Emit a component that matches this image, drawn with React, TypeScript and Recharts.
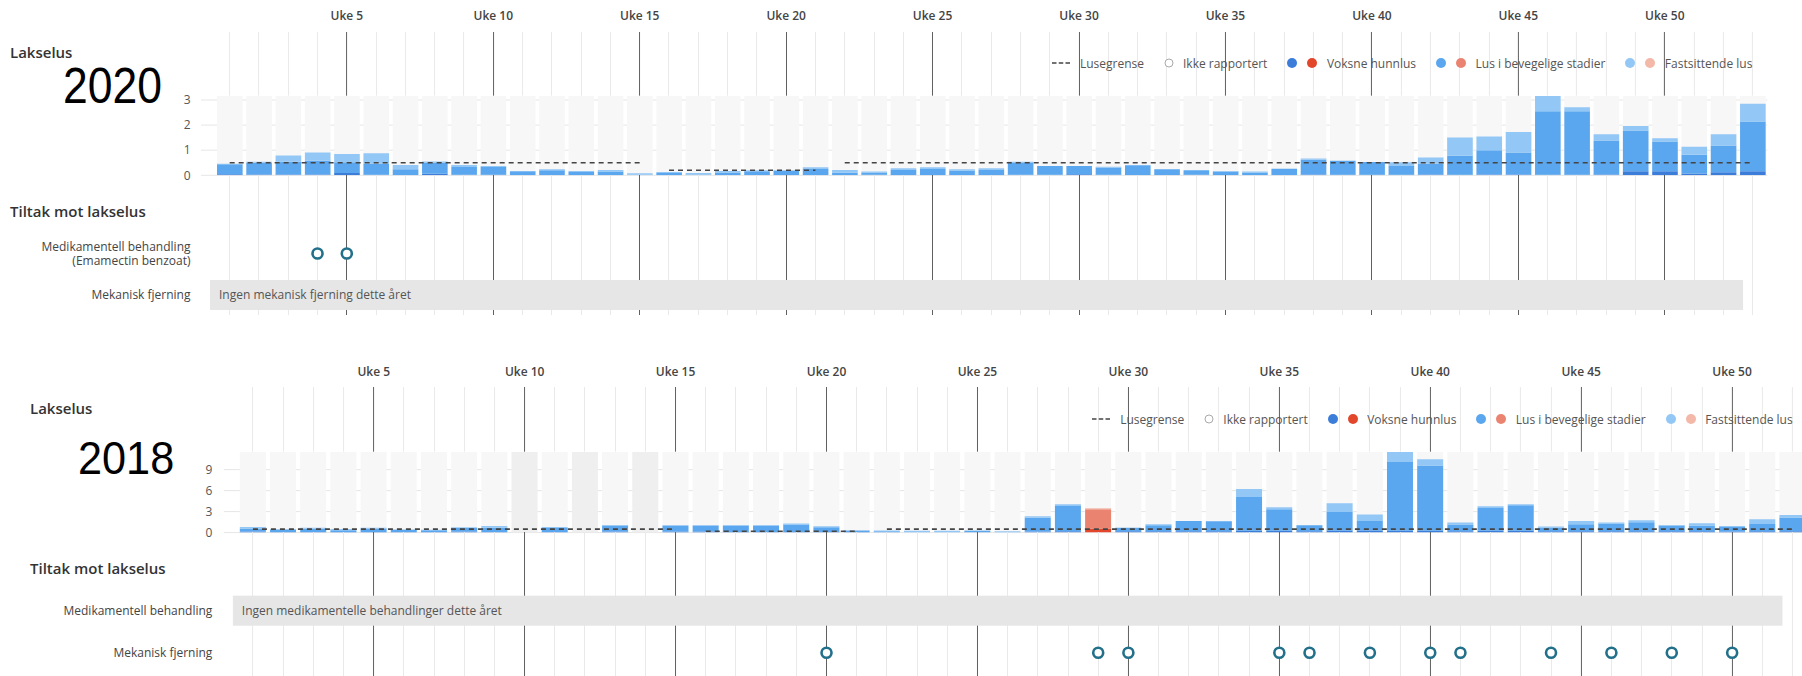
import React from "react";
import {
  ComposedChart,
  Bar,
  Line,
  XAxis,
  YAxis,
  CartesianGrid,
  Cell,
  ReferenceArea,
} from "recharts";

const FONT = "'Open Sans', 'DejaVu Sans', sans-serif";
const BIG_FONT = "'Liberation Sans', sans-serif";

// ---------- 2020 ----------
const weeks2020 = Array.from({ length: 53 }, (_, i) => i + 1);
const adult2020 = [
  0.04, 0.03, 0.03, 0.03, 0.09, 0.02, 0.01, 0.06, 0.02, 0.02,
  0.01, 0.01, 0.01, 0.01, 0, 0.01, 0, 0.01, 0.01, 0.01,
  0.01, 0.01, 0.02, 0.01, 0.01, 0.01, 0.01, 0.02, 0.02, 0.04,
  0.02, 0.01, 0.01, 0.02, 0.01, 0.01, 0.01, 0.03, 0.02, 0.02,
  0.02, 0.03, 0.02, 0.03, 0.03, 0.02, 0.02, 0.03, 0.16, 0.16,
  0.07, 0.12, 0.16,
];
const mobile2020 = [
  0.4, 0.47, 0.51, 0.55, 0.43, 0.44, 0.23, 0.45, 0.31, 0.31,
  0.15, 0.19, 0.12, 0.14, 0.02, 0.08, 0.03, 0.1, 0.15, 0.16,
  0.24, 0.09, 0.09, 0.2, 0.24, 0.18, 0.2, 0.47, 0.35, 0.33,
  0.29, 0.39, 0.23, 0.18, 0.14, 0.1, 0.25, 0.59, 0.56, 0.51,
  0.35, 0.43, 0.76, 0.97, 0.88, 2.53, 2.53, 1.36, 1.63, 1.19,
  0.75, 1.07, 1.98,
];
const fixed2020 = [
  0.02, 0.04, 0.25, 0.33, 0.33, 0.42, 0.17, 0.04, 0.08, 0.04,
  0.01, 0.04, 0.04, 0.06, 0.06, 0.04, 0.06, 0.06, 0.04, 0.03,
  0.07, 0.11, 0.04, 0.07, 0.07, 0.05, 0.07, 0.05, 0, 0,
  0.03, 0, 0, 0, 0.02, 0.04, 0, 0.05, 0, 0,
  0.15, 0.25, 0.73, 0.55, 0.82, 0.61, 0.16, 0.25, 0.17, 0.13,
  0.32, 0.45, 0.71,
];
const limit2020 = [
  0.5, 0.5, 0.5, 0.5, 0.5, 0.5, 0.5, 0.5, 0.5, 0.5,
  0.5, 0.5, 0.5, 0.5, 0.5, 0.2, 0.2, 0.2, 0.2, 0.2,
  0.2, 0.5, 0.5, 0.5, 0.5, 0.5, 0.5, 0.5, 0.5, 0.5,
  0.5, 0.5, 0.5, 0.5, 0.5, 0.5, 0.5, 0.5, 0.5, 0.5,
  0.5, 0.5, 0.5, 0.5, 0.5, 0.5, 0.5, 0.5, 0.5, 0.5,
  0.5, 0.5, 0.5,
];
const medWeeks2020 = [4, 5];
const mekWeeks2020: number[] = [];
const liceTicks2020 = [0, 1, 2, 3];

// ---------- 2018 ----------
const weeks2018 = Array.from({ length: 52 }, (_, i) => i + 1);
const adult2018 = [
  0.15, 0.1, 0.1, 0.1, 0.1, 0.1, 0.1, 0.15, 0.1, null,
  0.1, null, 0.15, null, 0.15, 0.15, 0.1, 0.1, 0.1, 0.1,
  0.1, 0.05, 0, 0, 0.05, 0, 0.15, 0.2, 0.57, 0.2,
  0.2, 0.2, 0.2, 0.25, 0.25, 0.2, 0.25, 0.3, 0.25, 0.25,
  0.2, 0.25, 0.25, 0.2, 0.2, 0.2, 0.2, 0.2, 0.2, 0.15,
  0.2, 0.2,
];
const mobile2018 = [
  0.45, 0.35, 0.45, 0.25, 0.5, 0.3, 0.25, 0.55, 0.6, null,
  0.55, null, 0.85, null, 0.85, 0.85, 0.9, 0.9, 1.05, 0.65,
  0.2, 0.15, 0.05, 0.05, 0.2, 0.05, 1.98, 3.61, 2.77, 0.5,
  0.86, 1.47, 1.42, 4.85, 3.08, 0.85, 2.7, 1.37, 9.84, 9.33,
  0.94, 3.27, 3.66, 0.52, 0.99, 1.09, 1.27, 0.8, 0.8, 0.65,
  1.03, 1.94,
];
const fixed2018 = [
  0.21, 0.05, 0.15, 0.15, 0.1, 0.05, 0.05, 0.05, 0.25, null,
  0.16, null, 0.1, null, 0.05, 0.05, 0.05, 0.05, 0.14, 0.15,
  0, 0.1, 0.2, 0.2, 0.05, 0.15, 0.2, 0.24, 0.14, 0,
  0.14, 0, 0, 1.14, 0.29, 0, 1.24, 0.9, 1.43, 0.9,
  0.29, 0.24, 0.14, 0.14, 0.48, 0.14, 0.29, 0.1, 0.33, 0.15,
  0.67, 0.38,
];
const limit2018 = [
  0.5, 0.5, 0.5, 0.5, 0.5, 0.5, 0.5, 0.5, 0.5, 0.5,
  0.5, 0.5, 0.5, 0.5, 0.5, 0.2, 0.2, 0.2, 0.2, 0.2,
  0.2, 0.5, 0.5, 0.5, 0.5, 0.5, 0.5, 0.5, 0.5, 0.5,
  0.5, 0.5, 0.5, 0.5, 0.5, 0.5, 0.5, 0.5, 0.5, 0.5,
  0.5, 0.5, 0.5, 0.5, 0.5, 0.5, 0.5, 0.5, 0.5, 0.5,
  0.5, 0.5,
];
const medWeeks2018: number[] = [];
const mekWeeks2018 = [20, 29, 30, 35, 36, 38, 40, 41, 44, 46, 48, 50];
const liceTicks2018 = [0, 3, 6, 9];

const blue = { adult: "#3b7dd8", mobile: "#5aa7ef", fixed: "#93c7f5" };
const red = { adult: "#e2462b", mobile: "#ea8470", fixed: "#f3b8a8" };
const RING = "#23708b";

type Row = {
  label: string[];
  title?: boolean;
  key?: "medRow" | "mekRow";
  weeks?: number[];
  none?: string;
};

interface Layout {
  width: number;
  plotLeft: number;
  weekW: number;
  barW: number;
  labelY: number;
  gridTop: number;
  colTop: number;
  zeroY: number;
  titleY: number;
  rowGap: number;
  bottom: number;
  leftX: number;
  labelGap: number;
  legendY: number;
  lakselusY: number;
  yearX: number;
  yearBase: number;
  yearSize: number;
  yearScale: number;
}

interface YearData {
  year: string;
  weeks: number[];
  adult: (number | null)[];
  mobile: (number | null)[];
  fixed: (number | null)[];
  limit: number[];
  liceTicks: number[];
  rows: Row[];
  layout: Layout;
}

const years: YearData[] = [
  {
    year: "2020",
    weeks: weeks2020,
    adult: adult2020,
    mobile: mobile2020,
    fixed: fixed2020,
    limit: limit2020,
    liceTicks: liceTicks2020,
    rows: [
      { label: ["Tiltak mot lakselus"], title: true },
      {
        label: ["Medikamentell behandling", "(Emamectin benzoat)"],
        key: "medRow",
        weeks: medWeeks2020,
        none: "Ingen medikamentelle behandlinger dette året",
      },
      {
        label: ["Mekanisk fjerning"],
        key: "mekRow",
        weeks: mekWeeks2020,
        none: "Ingen mekanisk fjerning dette året",
      },
    ],
    layout: {
      width: 1802, plotLeft: 215, weekW: 29.29, barW: 25.6,
      labelY: 16, gridTop: 32, colTop: 95.7, zeroY: 175,
      titleY: 212, rowGap: 41.5, bottom: 315,
      leftX: 10, labelGap: 24.5, legendY: 63, lakselusY: 52,
      yearX: 63, yearBase: 103, yearSize: 50, yearScale: 0.89,
    },
  },
  {
    year: "2018",
    weeks: weeks2018,
    adult: adult2018,
    mobile: mobile2018,
    fixed: fixed2018,
    limit: limit2018,
    liceTicks: liceTicks2018,
    rows: [
      { label: ["Tiltak mot lakselus"], title: true },
      {
        label: ["Medikamentell behandling"],
        key: "medRow",
        weeks: medWeeks2018,
        none: "Ingen medikamentelle behandlinger dette året",
      },
      {
        label: ["Mekanisk fjerning"],
        key: "mekRow",
        weeks: mekWeeks2018,
        none: "Ingen mekanisk fjerning dette året",
      },
    ],
    layout: {
      width: 1812, plotLeft: 237.8, weekW: 30.19, barW: 26,
      labelY: 372, gridTop: 387, colTop: 451.7, zeroY: 532.3,
      titleY: 569, rowGap: 42, bottom: 700,
      leftX: 30, labelGap: 25.5, legendY: 419, lakselusY: 408,
      yearX: 78, yearBase: 473.5, yearSize: 47, yearScale: 0.92,
    },
  },
];

const legendItems = [
  { label: "Lusegrense", kind: "dash" },
  { label: "Ikke rapportert", kind: "ring" },
  { label: "Voksne hunnlus", kind: "dots", colors: [blue.adult, red.adult] },
  { label: "Lus i bevegelige stadier", kind: "dots", colors: [blue.mobile, red.mobile] },
  { label: "Fastsittende lus", kind: "dots", colors: [blue.fixed, red.fixed] },
];

function Legend({ right, top }: { right: number; top: number }) {
  return (
    <div
      style={{
        position: "absolute", right, top, height: 18, display: "flex",
        alignItems: "center", fontFamily: FONT, fontSize: 12, color: "#555",
        whiteSpace: "nowrap",
      }}
    >
      {legendItems.map((it, i) => (
        <div key={it.label} style={{ display: "flex", alignItems: "center", marginLeft: i ? 20 : 0 }}>
          {it.kind === "dash" && (
            <svg width={18} height={10} style={{ marginRight: 10 }}>
              <line x1={0} x2={18} y1={5} y2={5} stroke="#444" strokeWidth={1.6} strokeDasharray="4.5 2.25" />
            </svg>
          )}
          {it.kind === "ring" && (
            <svg width={10} height={10} style={{ marginRight: 9 }}>
              <circle cx={5} cy={5} r={4} fill="#fff" stroke="#aaa" strokeWidth={1} />
            </svg>
          )}
          {it.kind === "dots" && (
            <svg width={30} height={10} style={{ marginRight: 9.5 }}>
              <circle cx={5} cy={5} r={5} fill={it.colors![0]} />
              <circle cx={25} cy={5} r={5} fill={it.colors![1]} />
            </svg>
          )}
          <span>{it.label}</span>
        </div>
      ))}
    </div>
  );
}

// vertical week lines: light for every week, dark every fifth week
const weekLine = (L: Layout) => (p: any) => {
  const pos = (p.x1 - L.plotLeft) / L.weekW - 0.5;
  const i = Math.round(pos);
  const k = `v-${p.x1}`;
  if (Math.abs(pos - i) > 0.25) return <g key={k} />;
  const x = Math.floor(p.x1) + 0.5;
  return (
    <line key={k} x1={x} x2={x} y1={p.y1} y2={p.y2}
      stroke={(i + 1) % 5 === 0 ? "#5f5f5f" : "#e9e9e9"} strokeWidth={1} />
  );
};

function RowTick(props: any) {
  const { x, y, payload, rows, leftX } = props;
  const row: Row | undefined = rows[payload.value - 1];
  if (!row) return <g />;
  if (row.title) {
    return (
      <text x={leftX} y={y} dy={5} fill="#333" fontSize={15} fontWeight={600} fontFamily={FONT}>
        {row.label[0]}
      </text>
    );
  }
  const lh = 13.5;
  const first = -((row.label.length - 1) * lh) / 2 + 4.3;
  return (
    <text x={x} y={y} textAnchor="end" fill="#444" fontSize={12} fontFamily={FONT}>
      {row.label.map((t, i) => (
        <tspan key={i} x={x} dy={i === 0 ? first : lh}>{t}</tspan>
      ))}
    </text>
  );
}

const renderRing = (p: any) => {
  if (p.value == null || p.cy == null) return <g key={`n${p.index}`} />;
  return (
    <circle key={`r${p.index}`} cx={p.cx} cy={p.cy} r={5} fill="#fff" stroke={RING} strokeWidth={2.6} />
  );
};

const BandShape = (p: any) => (
  <rect x={p.x - 5} y={Math.min(p.y, p.y + p.height)} width={p.width + 10}
    height={Math.abs(p.height)} fill="#e6e6e6" />
);

function YearBlock({ d }: { d: YearData }) {
  const L = d.layout;
  const n = d.weeks.length;
  const mr = L.width - L.plotLeft - n * L.weekW;
  const totals = d.weeks.map((_, i) => (d.adult[i] ?? 0) + (d.mobile[i] ?? 0) + (d.fixed[i] ?? 0));
  const liceMax = Math.max(...totals);

  const data = d.weeks.map((w, i) => {
    const lim = d.limit[i];
    const adult = d.adult[i];
    return {
      week: w,
      adult,
      mobile: d.mobile[i],
      fixed: d.fixed[i],
      reported: adult != null,
      over: adult != null && adult > lim,
      bg: liceMax,
      limHigh: lim >= 0.5 ? lim : null,
      limLow: lim < 0.5 ? lim : null,
      medRow: d.rows[1].weeks!.includes(w) ? 2 : null,
      mekRow: d.rows[2].weeks!.includes(w) ? 3 : null,
    };
  });

  const grid = weekLine(L);
  const headTop = L.gridTop - 32;
  const rowD0 = 1 - (L.titleY - L.zeroY) / L.rowGap;
  const rowD1 = 1 + (L.bottom - L.titleY) / L.rowGap;
  const half = 15 / L.rowGap;
  const tickFont = { fill: "#555", fontSize: 12, fontFamily: FONT };

  return (
    <>
      <div
        style={{
          position: "absolute", left: L.yearX, top: L.yearBase - 0.8465 * L.yearSize,
          fontFamily: BIG_FONT, fontSize: L.yearSize, lineHeight: `${L.yearSize}px`,
          color: "#000", whiteSpace: "nowrap",
          transform: `scaleX(${L.yearScale})`, transformOrigin: "0 0",
        }}
      >
        {d.year}
      </div>
      <div
        style={{
          position: "absolute", left: L.leftX, top: L.lakselusY - 10, lineHeight: "20px",
          fontFamily: FONT, fontSize: 15, fontWeight: 600, color: "#333",
        }}
      >
        Lakselus
      </div>

      {/* week header with vertical week lines */}
      <div style={{ position: "absolute", left: 0, top: headTop }}>
        <ComposedChart width={L.width} height={L.colTop - headTop} data={data}
          margin={{ top: 0, right: mr, bottom: 0, left: L.plotLeft }}>
          <CartesianGrid horizontal={false} vertical={grid} syncWithTicks />
          <XAxis dataKey="week" orientation="top" height={32} interval={0}
            tickLine={false} axisLine={false} tickSize={0}
            tickMargin={L.gridTop - (L.labelY + 4.3)}
            tickFormatter={(w: number) => (w % 5 === 0 ? `Uke ${w}` : "")}
            tick={{ fill: "#444", fontSize: 12, fontWeight: 600, fontFamily: FONT }} />
          <YAxis hide domain={[0, 1]} />
          <Bar dataKey="none" isAnimationActive={false} />
        </ComposedChart>
      </div>

      <Legend right={1802 - (L.plotLeft + n * L.weekW - 15)} top={L.legendY - 9} />

      {/* lice counts */}
      <div style={{ position: "absolute", left: 0, top: L.colTop - 10 }}>
        <ComposedChart width={L.width} height={L.zeroY - L.colTop + 20} data={data}
          margin={{ top: 10, right: mr, bottom: 10, left: 0 }}>
          <CartesianGrid vertical={false} stroke="#e6e6e6" syncWithTicks />
          <XAxis xAxisId="main" dataKey="week" hide />
          <XAxis xAxisId="bg" dataKey="week" hide />
          <YAxis domain={[0, liceMax]} ticks={d.liceTicks} width={L.plotLeft} interval={0}
            tickSize={14} tickMargin={L.labelGap - 14} axisLine={false}
            tickLine={{ stroke: "#e6e6e6" }} tick={tickFont} allowDataOverflow />
          <Bar xAxisId="bg" dataKey="bg" barSize={L.barW} isAnimationActive={false}>
            {data.map((r, i) => (
              <Cell key={i} fill={r.reported ? "#f7f7f7" : "#efefef"} />
            ))}
          </Bar>
          <Bar xAxisId="main" dataKey="adult" stackId="lus" barSize={L.barW} isAnimationActive={false}>
            {data.map((r, i) => <Cell key={i} fill={r.over ? red.adult : blue.adult} />)}
          </Bar>
          <Bar xAxisId="main" dataKey="mobile" stackId="lus" barSize={L.barW} isAnimationActive={false}>
            {data.map((r, i) => <Cell key={i} fill={r.over ? red.mobile : blue.mobile} />)}
          </Bar>
          <Bar xAxisId="main" dataKey="fixed" stackId="lus" barSize={L.barW} isAnimationActive={false}>
            {data.map((r, i) => <Cell key={i} fill={r.over ? red.fixed : blue.fixed} />)}
          </Bar>
          <Line xAxisId="main" dataKey="limHigh" stroke="#444" strokeWidth={1.6}
            strokeDasharray="5 4" dot={false} activeDot={false} isAnimationActive={false} />
          <Line xAxisId="main" dataKey="limLow" stroke="#444" strokeWidth={1.6}
            strokeDasharray="5 4" dot={false} activeDot={false} isAnimationActive={false} />
        </ComposedChart>
      </div>

      {/* measures against lice */}
      <div style={{ position: "absolute", left: 0, top: L.zeroY }}>
        <ComposedChart width={L.width} height={L.bottom - L.zeroY} data={data}
          margin={{ top: 0, right: mr, bottom: 0, left: 0 }}>
          <CartesianGrid horizontal={false} vertical={grid} syncWithTicks />
          <XAxis dataKey="week" interval={0} hide />
          <YAxis type="number" domain={[rowD0, rowD1]} reversed ticks={[1, 2, 3]} interval={0}
            width={L.plotLeft} tickSize={0} tickMargin={L.labelGap} axisLine={false}
            tickLine={false} allowDataOverflow
            tick={<RowTick rows={d.rows} leftX={L.leftX} />} />
          <Bar dataKey="none" isAnimationActive={false} />
          {d.rows.map((r, i) =>
            !r.title && r.weeks!.length === 0 ? (
              <ReferenceArea key={r.key} x1={d.weeks[0]} x2={d.weeks[n - 2]}
                y1={i + 1 - half} y2={i + 1 + half} ifOverflow="visible"
                shape={BandShape}
                label={{ value: r.none, position: "insideLeft", offset: 4, fill: "#555", fontSize: 12, fontFamily: FONT }} />
            ) : null
          )}
          <Line dataKey="medRow" stroke="none" dot={renderRing} activeDot={false} isAnimationActive={false} />
          <Line dataKey="mekRow" stroke="none" dot={renderRing} activeDot={false} isAnimationActive={false} />
        </ComposedChart>
      </div>
    </>
  );
}

export default function App() {
  return (
    <div
      style={{
        position: "absolute", left: 0, top: 0, width: 1802, height: 676,
        overflow: "hidden", background: "#fff", fontFamily: FONT,
      }}
    >
      {years.map((d) => (
        <YearBlock key={d.year} d={d} />
      ))}
    </div>
  );
}
